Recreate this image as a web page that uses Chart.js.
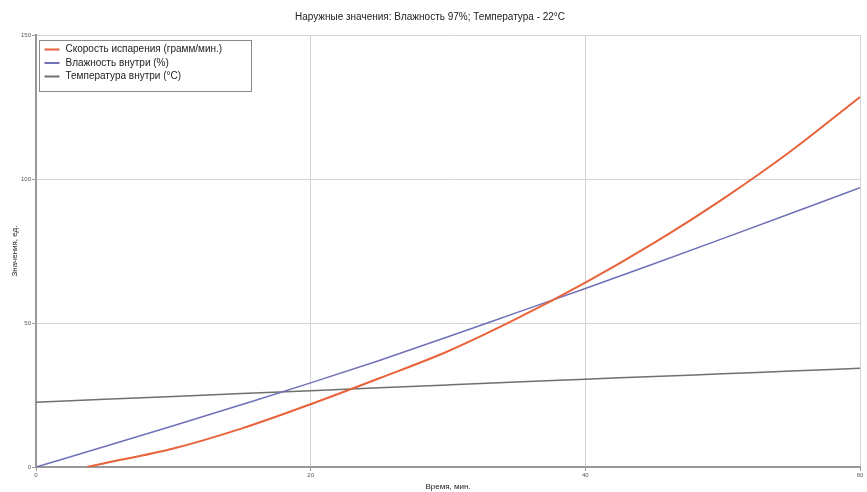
<!DOCTYPE html>
<html>
<head>
<meta charset="utf-8">
<script src="https://cdn.jsdelivr.net/npm/chart.js@4/dist/chart.umd.min.js"></script>
<style>
  html, body { margin: 0; padding: 0; background: #fff; }
  #wrap { width: 867px; height: 492px; }
</style>
</head>
<body>
<div id="wrap"><canvas id="chart"></canvas></div>
<script>
// values
var titleText = 'Наружные значения: Влажность 97%; Температура - 22°C';
var seriesLabels = ['Скорость испарения (грамм/мин.)', 'Влажность внутри (%)', 'Температура внутри (°C)'];

var evapTime = [3.7, 5, 10, 15, 20, 25, 30, 35, 40, 45, 50, 55, 60];
var evapValues = [0, 1.3, 6.4, 13.4, 21.8, 30.8, 40.2, 51.5, 64, 77.8, 93, 109.8, 128.5];

var timeMin = [0, 5, 10, 15, 20, 25, 30, 35, 40, 45, 50, 55, 60];
var humidityValues = [0, 7.1, 14.3, 21.7, 29.2, 37, 45.2, 53.6, 62, 70.6, 79.3, 88.1, 97];
var tempValues = [22.5, 23.5, 24.5, 25.5, 26.5, 27.5, 28.5, 29.5, 30.5, 31.4, 32.4, 33.3, 34.3];

var yTicks = [0, 50, 100, 150];
var xTicks = [0, 20, 40, 60];

var colors = ['#e8623a', '#7070b8', '#707070'];

function toPoints(xs, ys) {
  return xs.map(function(x, i) { return { x: x, y: ys[i] }; });
}

// legend drawn inside the plot, top-left, with a frame
var boxLegend = {
  id: 'boxLegend',
  afterDraw: function(chart) {
    var ctx = chart.ctx;
    var a = chart.chartArea;
    var x0 = a.left + 3.5, y0 = a.top + 5.5, w = 212, h = 51;
    ctx.save();
    ctx.fillStyle = '#fff';
    ctx.fillRect(x0, y0, w, h);
    ctx.strokeStyle = '#8a8a8a';
    ctx.lineWidth = 1;
    ctx.strokeRect(x0, y0, w, h);
    ctx.font = '10px "Liberation Sans", Arial, sans-serif';
    ctx.textBaseline = 'middle';
    chart.data.datasets.forEach(function(ds, i) {
      var ry = y0 + 9 + i * 13.5;
      ctx.strokeStyle = ds.borderColor;
      ctx.lineWidth = 2;
      ctx.beginPath();
      ctx.moveTo(x0 + 5, ry);
      ctx.lineTo(x0 + 20, ry);
      ctx.stroke();
      ctx.fillStyle = '#222';
      ctx.fillText(ds.label, x0 + 26, ry);
    });
    ctx.restore();
  }
};

new Chart(document.getElementById('chart'), {
  type: 'line',
  data: {
    datasets: [
      { label: seriesLabels[0], data: toPoints(evapTime, evapValues), borderColor: colors[0], borderWidth: 2, pointRadius: 0, cubicInterpolationMode: 'monotone' },
      { label: seriesLabels[1], data: toPoints(timeMin, humidityValues), borderColor: colors[1], borderWidth: 1.5, pointRadius: 0, cubicInterpolationMode: 'monotone' },
      { label: seriesLabels[2], data: toPoints(timeMin, tempValues), borderColor: colors[2], borderWidth: 1.5, pointRadius: 0, cubicInterpolationMode: 'monotone' }
    ]
  },
  options: {
    responsive: true,
    maintainAspectRatio: false,
    animation: false,
    layout: { padding: { right: 7 } },
    plugins: {
      legend: { display: false },
      tooltip: { enabled: false },
      title: {
        display: true,
        text: titleText,
        color: '#222',
        font: { family: '"Liberation Sans", Arial, sans-serif', size: 10, weight: 'normal' },
        padding: { top: 11, bottom: 12 }
      }
    },
    scales: {
      x: {
        type: 'linear',
        min: 0, max: 60,
        afterBuildTicks: function(scale) { scale.ticks = xTicks.map(function(v) { return { value: v }; }); },
        afterFit: function(scale) { scale.height = 25; },
        ticks: { color: '#555', font: { size: 6 }, padding: 1, maxRotation: 0 },
        grid: { color: '#d4d4d4', tickLength: 4, tickColor: '#999' },
        border: { color: '#999', width: 2 },
        title: { display: true, text: 'Время, мин.', color: '#222', font: { size: 8 }, padding: { top: 0, bottom: 0 } }
      },
      y: {
        min: 0, max: 150,
        afterBuildTicks: function(scale) { scale.ticks = yTicks.map(function(v) { return { value: v }; }); },
        afterFit: function(scale) { scale.width = 36; },
        ticks: { color: '#555', font: { size: 6 }, padding: 1 },
        grid: { color: '#d4d4d4', tickLength: 4, tickColor: '#999' },
        border: { color: '#999', width: 2 },
        title: { display: true, text: 'Значения, ед.', color: '#222', font: { size: 8 }, padding: { top: 10, bottom: 0 } }
      }
    }
  },
  plugins: [boxLegend]
});
</script>
</body>
</html>
